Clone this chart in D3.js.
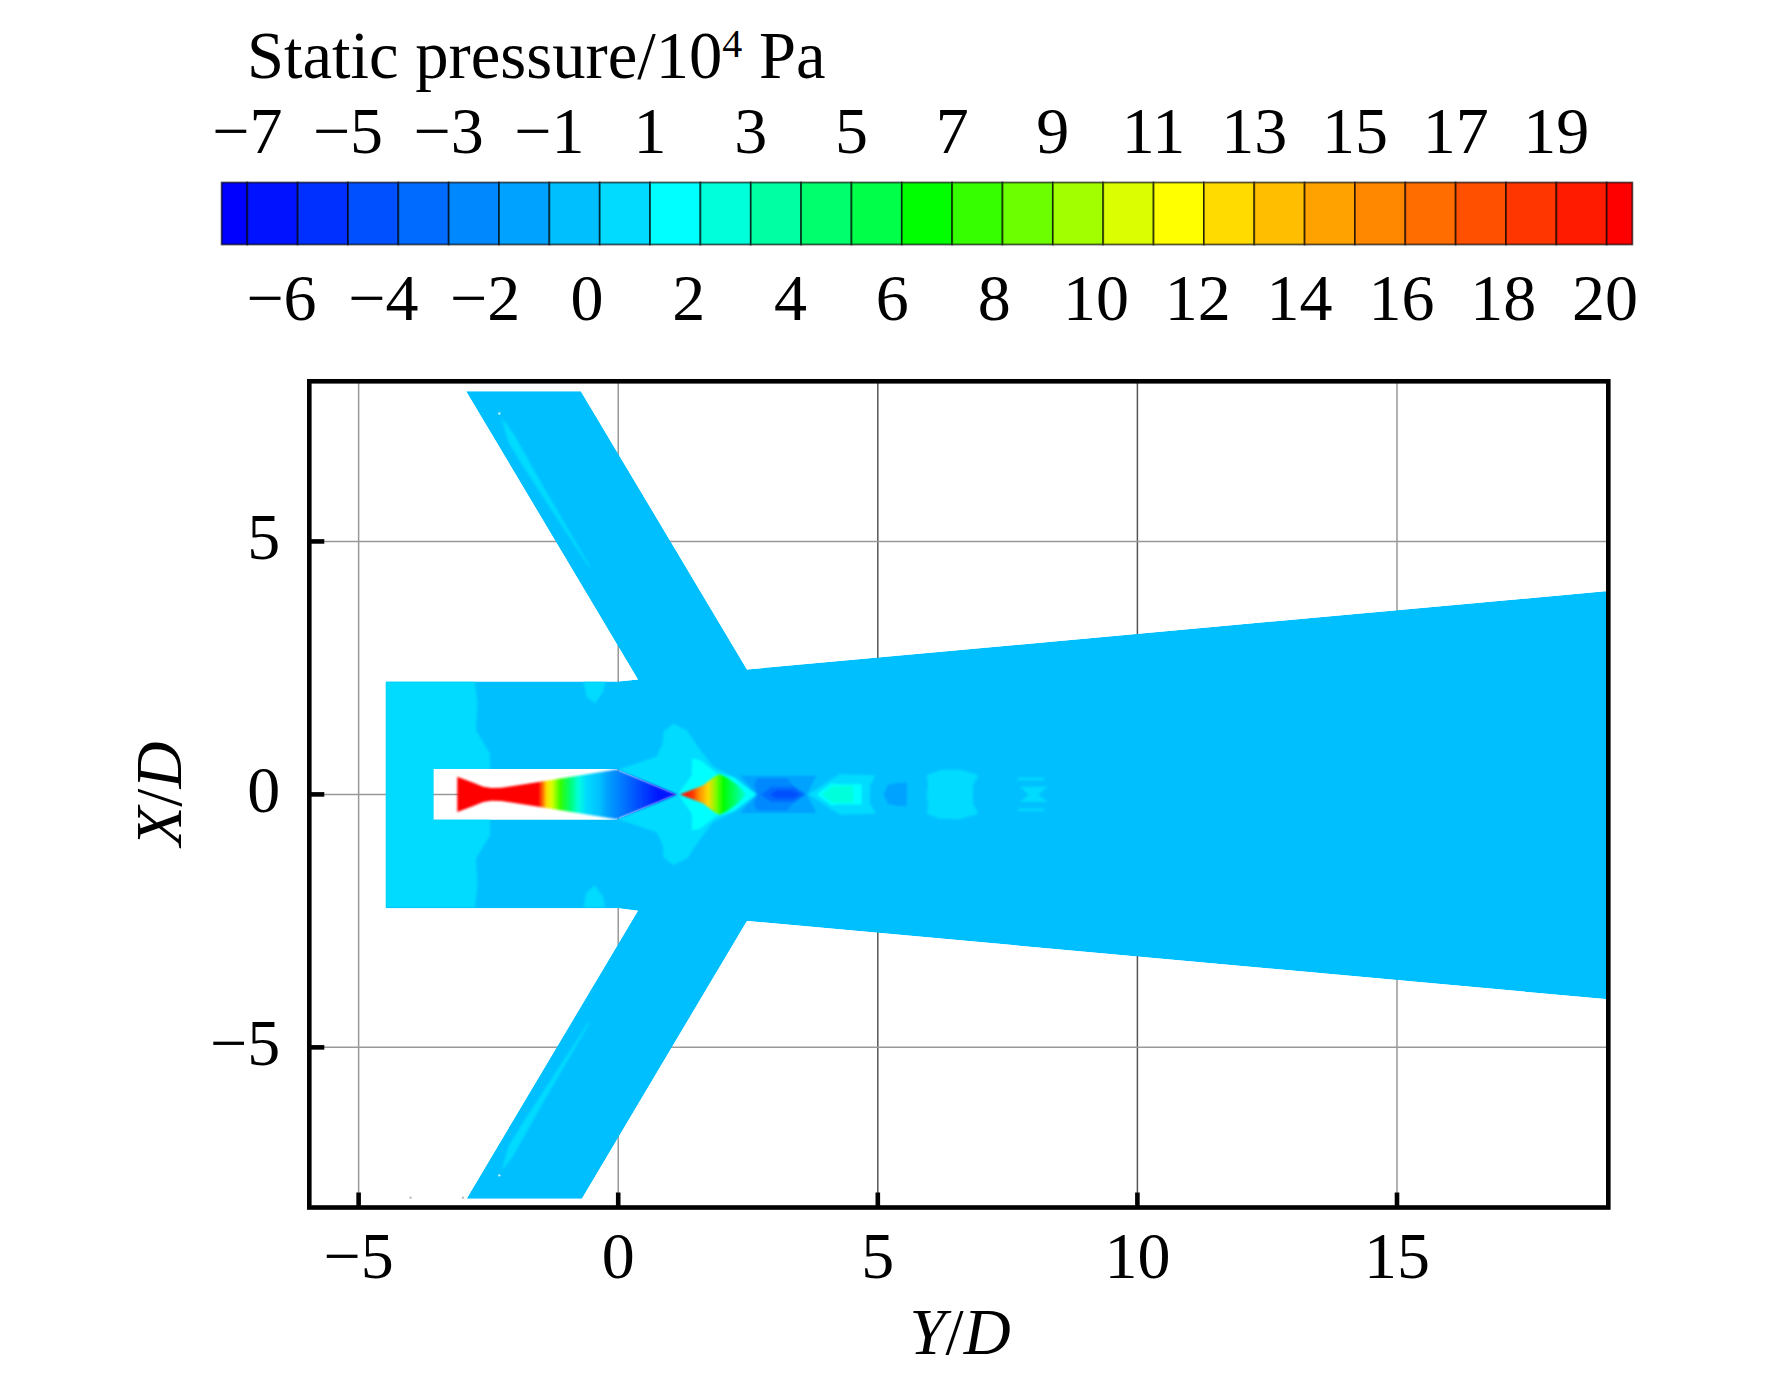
<!DOCTYPE html>
<html>
<head>
<meta charset="utf-8">
<script src="https://cdn.jsdelivr.net/npm/d3@7"></script>
<style>
  body { margin: 0; background: #fff; }
  text { font-family: "Liberation Serif", "Times New Roman", serif; fill: #000; }
  .axis .domain { display: none; }
  .axis line { stroke: #000; stroke-width: 4.6; }
  .axis text { font-size: 66px; }
  .bar-axis .domain, .bar-axis line { display: none; }
  .bar-axis text { font-size: 66px; }
</style>
</head>
<body>
<script>
// Colour bar: pressure levels and the 29 band colours between them
var levels = [-7, -6, -5, -4, -3, -2, -1, 0, 1, 2, 3, 4, 5, 6, 7, 8, 9, 10, 11, 12, 13, 14, 15, 16, 17, 18, 19, 20];
var bandColors = ['#0000ff', '#0012ff', '#0030ff', '#0050ff', '#006cff', '#0088ff', '#00a2ff', '#00bfff',
  '#00dbff', '#00ffff', '#00ffdb', '#00ffa2', '#00ff6c', '#00ff48', '#00ff00', '#36ff00', '#6cff00',
  '#a2ff00', '#dbff00', '#ffff00', '#ffdb00', '#ffbf00', '#ffa200', '#ff8800', '#ff6c00', '#ff5000',
  '#ff3600', '#ff1b00', '#ff0000'];
var barEnds = [-7.51, 20.51];
var barTopTicks = [-7, -5, -3, -1, 1, 3, 5, 7, 9, 11, 13, 15, 17, 19];
var barBottomTicks = [-6, -4, -2, 0, 2, 4, 6, 8, 10, 12, 14, 16, 18, 20];

// Axes
var yOverDTicks = [-5, 0, 5, 10, 15];
var xOverDTicks = [-5, 0, 5];
var darkGrid = [5, 10];

// Flow domain outline and the nozzle body hole, [Y/D, X/D]
var domainOutline = [[-2.93, 7.97], [-0.72, 7.97], [2.48, 2.47], [19.06, 4.02], [19.06, -4.05], [2.48, -2.5],
  [-0.7, -7.99], [-2.92, -7.99], [0.38, -2.3], [0, -2.25], [-4.48, -2.25], [-4.48, 2.23], [0, 2.23], [0.38, 2.27]];
var bodyHole = [[-3.56, 0.5], [-0.03, 0.5], [1.13, 0], [-0.03, -0.5], [-3.56, -0.5]];

// Constant pressure patches, upper half only where the shape is symmetric
var chamberBand = [[-4.48, 2.23], [-2.76, 2.23], [-2.71, 1.8], [-2.74, 1.27], [-2.47, 0.81], [-2.46, 0]];
var wallLobe = [[-0.67, 2.23], [-0.25, 2.23], [-0.29, 2.03], [-0.45, 1.8], [-0.61, 1.93]];
var exitLobe = [[-0.03, 0.48], [0.74, 0.75], [0.86, 1.01], [0.87, 1.24], [1.06, 1.4], [1.32, 1.27], [1.58, 0.88],
  [1.83, 0.55], [2.22, 0.35], [2.67, 0]];
var exitCore = [[1.19, 0.05], [1.42, 0.38], [1.42, 0.71], [1.58, 0.68], [1.9, 0.42], [2.25, 0.33], [2.65, 0]];
var cell1Outer = [[2.67, 0], [2.35, 0.37], [3.82, 0.37], [3.63, 0]];
var cell1Mid = [[2.67, 0], [2.62, 0.2], [2.68, 0.32], [3.25, 0.32], [3.4, 0.14], [3.62, 0]];
var cell1Dark = [[2.75, 0], [2.95, 0.15], [3.4, 0.15], [3.6, 0]];
var cell1Core = [[2.92, 0], [3.05, 0.08], [3.35, 0.08], [3.52, 0]];
var cell2Outer = [[3.66, 0], [4.08, 0.28], [4.27, 0.4], [4.95, 0.38], [4.92, 0.29], [4.85, 0.19], [4.85, 0]];
var cell2Mid = [[3.82, 0], [4.11, 0.22], [4.27, 0.2], [4.69, 0.2], [4.69, 0]];
var cell2Core = [[3.92, 0], [4.14, 0.17], [4.53, 0.17], [4.53, 0]];
var cell3Spot = [[5.11, 0], [5.2, 0.19], [5.4, 0.23], [5.56, 0.23], [5.56, 0]];
var cell4Blob = [[5.94, 0], [5.97, 0.2], [5.94, 0.38], [6.2, 0.48], [6.58, 0.49], [6.94, 0.38], [6.84, 0.2], [6.83, 0]];
var cell5Tie = [[7.9, 0], [7.74, 0.15], [8.27, 0.15], [8.09, 0]];
var cell5Strip = [[7.7, 0.33], [8.2, 0.33], [8.2, 0.28], [7.7, 0.28]];
var armStreak = [[-2.25, 7.45], [-2.02, 7.14], [-1.73, 6.61], [-1.44, 6.08], [-0.54, 4.5], [-0.57, 4.5], [-1.83, 6.48], [-2.12, 6.97]];

var patchShapes = [chamberBand, cell1Outer, cell1Mid, cell1Dark, cell1Core, cell2Outer, cell2Mid, cell2Core,
  cell3Spot, cell4Blob, cell5Tie, exitLobe, exitCore];
var patchValues = [0.5, -1.5, -2.5, -3.5, -4.5, 0.5, 1.5, 2.5, -1.5, 0.5, 0.5, 0.5, 1.5];
var pairedShapes = [wallLobe, cell5Strip, armStreak];
var pairedValues = [0.5, 0.5, 0.5];

// Small stray specks left in the plot
var speckPoints = [[-2.29, 7.53], [-2.29, -7.53], [-4.0, -7.97], [-2.99, -7.97]];
var speckColors = ['#b8f2ff', '#b8f2ff', '#bbb', '#bbb'];

// Nozzle jet and first shock cell, with pressure along Y/D
var nozzleProfile = [[-3.1, 0], [-3.1, 0.35], [-2.79, 0.23], [-2.6, 0.15], [-2.44, 0.125], [-2.25, 0.13], [-1.5, 0.25], [-0.03, 0.49], [1.13, 0]];
var nozzleStations = [-3.1, -1.54, -1.47, -1.38, -1.28, -1.12, -0.93, -0.77, -0.61, -0.35, -0.22, -0.03, 0.36, 0.81, 1.13];
var nozzlePressure = [20, 20, 17, 12, 10, 7, 4, 2, 0.5, -1, -1.7, -3, -5, -6.5, -7];
var plumeProfile = [[1.19, 0], [1.64, 0.18], [1.85, 0.35], [1.95, 0.4], [2.1, 0.33], [2.3, 0.18], [2.47, 0]];
var plumeStations = [1.19, 1.44, 1.55, 1.73, 1.9, 2.02, 2.25, 2.47];
var plumePressure = [20, 18, 15, 12, 8, 6, 4, 2];

var width = 1772,
  height = 1377;

var svg = d3.select('body')
  .append('svg')
  .attr('width', width)
  .attr('height', height)
  .style('display', 'block');

var defs = svg.append('defs');

// Discrete colour lookup shared by bar and contours
var pressureColor = d3.scaleThreshold()
  .domain(levels)
  .range(bandColors);

// Title
var title = svg.append('text')
  .attr('x', 247)
  .attr('y', 77.5)
  .style('font-size', '66.6px');
title.append('tspan').text('Static pressure/10');
title.append('tspan').attr('dy', -21).style('font-size', '40px').text('4');
title.append('tspan').attr('dy', 21).text(' Pa');

// Colour bar
var barX = d3.scaleLinear().domain([-7, 20]).range([247.3, 1606.7]);
var barLabelX = d3.scaleLinear().domain([-6, 20]).range([281.5, 1605]);
var edges = [barEnds[0]].concat(levels, [barEnds[1]]);

svg.append('g')
  .selectAll('rect')
  .data(bandColors)
  .enter()
  .append('rect')
  .attr('x', function(d, i) { return barX(edges[i]); })
  .attr('y', 182.5)
  .attr('width', function(d, i) { return barX(edges[i + 1]) - barX(edges[i]); })
  .attr('height', 62)
  .attr('fill', function(d) { return d; })
  .attr('stroke', '#000')
  .attr('stroke-opacity', 0.65)
  .attr('stroke-width', 1.8);

svg.append('g')
  .attr('class', 'bar-axis')
  .attr('transform', 'translate(0,170)')
  .call(d3.axisTop(barX).tickValues(barTopTicks).tickSize(0).tickPadding(17).offset(0));

svg.append('g')
  .attr('class', 'bar-axis')
  .attr('transform', 'translate(0,250)')
  .call(d3.axisBottom(barLabelX).tickValues(barBottomTicks).tickSize(0).tickPadding(23).offset(0));

// Plot scales
var x = d3.scaleLinear().domain([-5.95, 19.07]).range([309.3, 1608.3]);
var y = d3.scaleLinear().domain([-8.165, 8.165]).range([1207.5, 381.3]);

// Grid sits under the flow and shows through the nozzle body hole
var grid = svg.append('g');
grid.selectAll('.vgrid')
  .data(yOverDTicks)
  .enter()
  .append('line')
  .attr('x1', x)
  .attr('x2', x)
  .attr('y1', y.range()[1])
  .attr('y2', y.range()[0])
  .attr('stroke', function(d) { return darkGrid.indexOf(d) >= 0 ? '#555' : '#999'; })
  .attr('stroke-width', 1.5);
grid.selectAll('.hgrid')
  .data(xOverDTicks)
  .enter()
  .append('line')
  .attr('x1', x.range()[0])
  .attr('x2', x.range()[1])
  .attr('y1', y)
  .attr('y2', y)
  .attr('stroke', '#999')
  .attr('stroke-width', 1.5);

var ring = d3.line()
  .x(function(d) { return x(d[0]); })
  .y(function(d) { return y(d[1]); })
  .curve(d3.curveLinearClosed);

// Turn an upper half outline into the full symmetric shape
function mirrored(points) {
  return points.concat(points.slice().reverse().map(function(p) { return [p[0], -p[1]]; }));
}
function flipped(points) {
  return points.map(function(p) { return [p[0], -p[1]]; });
}

defs.append('clipPath')
  .attr('id', 'flow-clip')
  .append('path')
  .attr('clip-rule', 'evenodd')
  .attr('d', ring(domainOutline) + ring(bodyHole));

var soften = defs.append('filter')
  .attr('id', 'soften')
  .attr('filterUnits', 'userSpaceOnUse')
  .attr('x', 0).attr('y', 0)
  .attr('width', width).attr('height', height);
soften.append('feGaussianBlur').attr('stdDeviation', 1);

var flow = svg.append('g').attr('clip-path', 'url(#flow-clip)');

flow.append('path')
  .attr('d', ring(domainOutline))
  .attr('fill', pressureColor(-0.5));

var contours = flow.append('g').attr('filter', 'url(#soften)');

contours.selectAll('.paired-top')
  .data(pairedShapes)
  .enter()
  .append('path')
  .attr('d', ring)
  .attr('fill', function(d, i) { return pressureColor(pairedValues[i]); });

contours.selectAll('.paired-bottom')
  .data(pairedShapes)
  .enter()
  .append('path')
  .attr('d', function(d) { return ring(flipped(d)); })
  .attr('fill', function(d, i) { return pressureColor(pairedValues[i]); });

contours.selectAll('.patch')
  .data(patchShapes)
  .enter()
  .append('path')
  .attr('d', function(d) { return ring(mirrored(d)); })
  .attr('fill', function(d, i) { return pressureColor(patchValues[i]); });

svg.append('g')
  .selectAll('circle')
  .data(speckPoints)
  .enter()
  .append('circle')
  .attr('cx', function(d) { return x(d[0]); })
  .attr('cy', function(d) { return y(d[1]); })
  .attr('r', 1.2)
  .attr('fill', function(d, i) { return speckColors[i]; });

// Jet pieces: pressure along the axis becomes a gradient on the outline
var jets = svg.append('g').attr('filter', 'url(#soften)');

function drawJet(id, profile, stations, pressure) {
  var xs = d3.extent(stations);
  var gradient = defs.append('linearGradient')
    .attr('id', id)
    .attr('gradientUnits', 'userSpaceOnUse')
    .attr('x1', x(xs[0]))
    .attr('x2', x(xs[1]))
    .attr('y1', 0)
    .attr('y2', 0);
  gradient.selectAll('stop')
    .data(stations)
    .enter()
    .append('stop')
    .attr('offset', function(d) { return (d - xs[0]) / (xs[1] - xs[0]); })
    .attr('stop-color', function(d, i) { return pressureColor(pressure[i]); });
  jets.append('path')
    .attr('d', ring(mirrored(profile)))
    .attr('fill', 'url(#' + id + ')');
}
drawJet('nozzle-fill', nozzleProfile, nozzleStations, nozzlePressure);
drawJet('plume-fill', plumeProfile, plumeStations, plumePressure);

// Axes, ticks point inward
svg.append('g')
  .attr('class', 'axis')
  .attr('transform', 'translate(0,' + y.range()[0] + ')')
  .call(d3.axisBottom(x).tickValues(yOverDTicks).tickSizeInner(-15).tickSizeOuter(0).tickPadding(23.6).offset(0));

var yAxis = svg.append('g')
  .attr('class', 'axis')
  .attr('transform', 'translate(' + x.range()[0] + ',0)')
  .call(d3.axisLeft(y).tickValues(xOverDTicks).tickSizeInner(-15).tickSizeOuter(0).tickPadding(29).offset(0));
yAxis.selectAll('text').attr('dy', '0.27em');

// Plot frame
svg.append('rect')
  .attr('x', x.range()[0])
  .attr('y', y.range()[1])
  .attr('width', x.range()[1] - x.range()[0])
  .attr('height', y.range()[0] - y.range()[1])
  .attr('fill', 'none')
  .attr('stroke', '#000')
  .attr('stroke-width', 4.6);

// Axis titles with italic letters and an upright slash
function axisTitle(sel, first) {
  sel.style('font-size', '65px').attr('text-anchor', 'middle');
  sel.append('tspan').style('font-style', 'italic').text(first);
  sel.append('tspan').text('/');
  sel.append('tspan').style('font-style', 'italic').text('D');
}
svg.append('text')
  .attr('x', 960)
  .attr('y', 1354)
  .call(axisTitle, 'Y');
svg.append('text')
  .attr('transform', 'translate(181,794) rotate(-90)')
  .call(axisTitle, 'X');
</script>
</body>
</html>
